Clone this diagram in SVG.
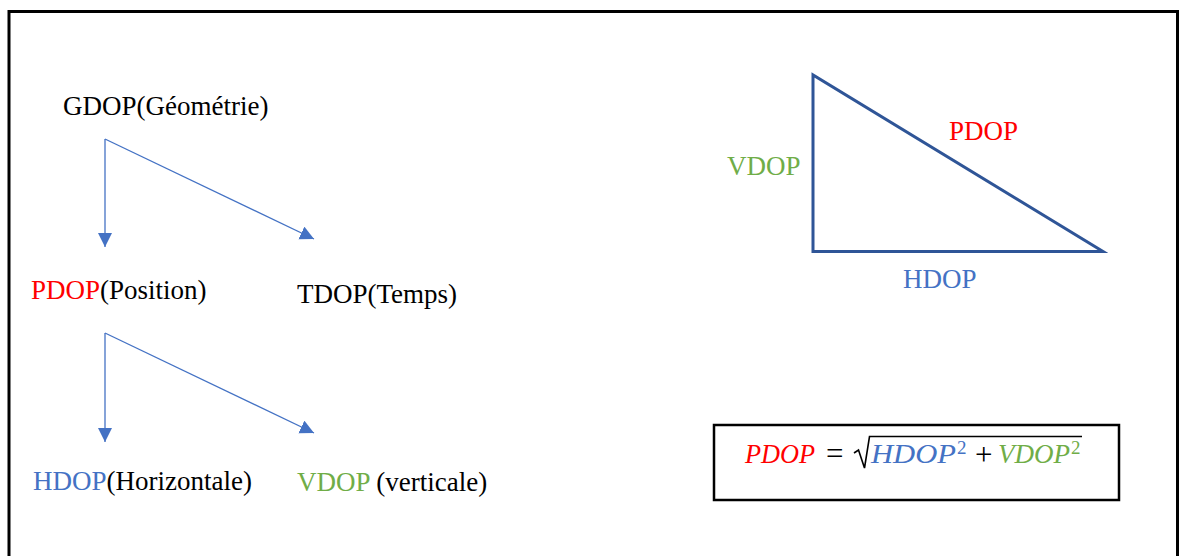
<svg xmlns="http://www.w3.org/2000/svg" width="1185" height="556" viewBox="0 0 1185 556">
  <style>
    .t { font-family: "Liberation Serif", "Times New Roman", serif; font-size: 27px; fill: #000; }
    .m { font-family: "Liberation Serif", "Times New Roman", serif; font-size: 27px; font-style: italic; }
    .mu { font-family: "Liberation Serif", "Times New Roman", serif; font-size: 31px; fill: #000; }
    .sup { font-family: "Liberation Serif", "Times New Roman", serif; font-size: 19px; }
    .red { fill: #FF0000; }
    .blue { fill: #4472C4; }
    .green { fill: #70AD47; }
    .conn { stroke: #4472C4; stroke-width: 1.3; fill: none; }
  </style>
  <defs>
    <marker id="arr" markerUnits="userSpaceOnUse" markerWidth="15" markerHeight="15" refX="14" refY="7" orient="auto" viewBox="0 0 15 15">
      <path d="M0,0 L14,7 L0,14 z" fill="#4472C4"/>
    </marker>
  </defs>
  <rect x="0" y="0" width="1185" height="556" fill="#fff"/>
  <rect id="frame" x="9" y="11.5" width="1168.5" height="600" fill="none" stroke="#000" stroke-width="3"/>

  <g id="gdop"><text class="t" x="63" y="115">GDOP(Géométrie)</text></g>
  <g id="pdop"><text class="t" x="31" y="299"><tspan class="red">PDOP</tspan>(Position)</text></g>
  <g id="tdop"><text class="t" x="297" y="303">TDOP(Temps)</text></g>
  <g id="hdop"><text class="t" x="33" y="490"><tspan class="blue">HDOP</tspan>(Horizontale)</text></g>
  <g id="vdop"><text class="t" x="297" y="491"><tspan class="green">VDOP</tspan> (verticale)</text></g>

  <g id="connectors">
    <line class="conn" x1="105" y1="139" x2="105" y2="247" marker-end="url(#arr)"/>
    <line class="conn" x1="105" y1="139" x2="314" y2="239" marker-end="url(#arr)"/>
    <line class="conn" x1="105" y1="333" x2="105" y2="442" marker-end="url(#arr)"/>
    <line class="conn" x1="105" y1="333" x2="314" y2="433" marker-end="url(#arr)"/>
  </g>

  <g id="triangle">
    <polygon points="813,75 813,251.5 1103,251.5" fill="none" stroke="#2F5597" stroke-width="3" stroke-linejoin="miter"/>
    <text class="t green" x="727" y="175">VDOP</text>
    <text class="t red" x="949" y="140">PDOP</text>
    <text class="t blue" x="903" y="288">HDOP</text>
  </g>

  <g id="formula">
    <rect x="714" y="425" width="405" height="75" fill="#fff" stroke="#000" stroke-width="2.5"/>
    <text class="m red" x="745" y="463" textLength="70" lengthAdjust="spacingAndGlyphs">PDOP</text>
    <text class="mu" x="826" y="464">=</text>
    <polyline points="854,453 858.5,450 864.5,468 869.5,436.5 1082,436.5" fill="none" stroke="#000" stroke-width="1.6" stroke-linejoin="miter"/>
    <text class="m blue" x="871" y="463" textLength="85" lengthAdjust="spacingAndGlyphs">HDOP</text>
    <text class="sup blue" x="957" y="454">2</text>
    <text class="mu" x="975" y="465">+</text>
    <text class="m green" x="998" y="463" textLength="72" lengthAdjust="spacingAndGlyphs">VDOP</text>
    <text class="sup green" x="1071" y="454">2</text>
  </g>
</svg>
